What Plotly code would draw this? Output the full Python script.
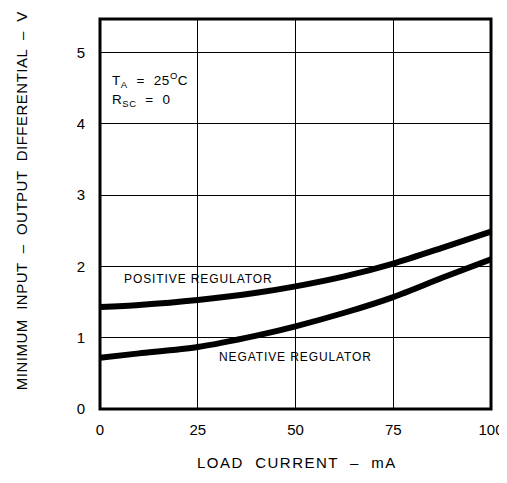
import plotly.graph_objects as go

load_current = [0, 10, 25, 40, 50, 62.5, 75, 87.5, 100]
positive_reg = [1.43, 1.46, 1.53, 1.63, 1.72, 1.86, 2.04, 2.26, 2.49]
negative_reg = [0.72, 0.78, 0.87, 1.03, 1.16, 1.35, 1.57, 1.84, 2.10]

x_ticks = [0, 25, 50, 75, 100]
y_ticks = [0, 1, 2, 3, 4, 5]

FONT = "Liberation Sans, Arial, sans-serif"


def spaced(text, px):
    return f'<span style="letter-spacing:{px}px">{text}</span>'


fig = go.Figure()
for ys in (positive_reg, negative_reg):
    fig.add_trace(go.Scatter(x=load_current, y=ys, mode="lines",
                             line=dict(color="black", width=6, shape="spline", smoothing=0.8),
                             showlegend=False, hoverinfo="skip"))

fig.update_xaxes(range=[0, 100], tickvals=x_ticks, ticktext=[str(v) for v in x_ticks],
                 showgrid=True, gridcolor="black", gridwidth=1.2, zeroline=False,
                 showline=False, ticks="", ticklabelstandoff=10, automargin=False,
                 tickfont=dict(size=15, color="black", family=FONT))
fig.update_yaxes(range=[0, 5.47], tickvals=y_ticks, ticktext=[str(v) for v in y_ticks],
                 showgrid=True, gridcolor="black", gridwidth=1.2, zeroline=False,
                 showline=False, ticks="", ticklabelstandoff=14, automargin=False,
                 tickfont=dict(size=15, color="black", family=FONT))

fig.add_shape(type="rect", xref="paper", yref="paper", x0=0, y0=0, x1=1, y1=1,
              line=dict(color="black", width=3))

# axis titles
fig.add_annotation(xref="paper", yref="paper", x=0.503, y=-0.138,
                   text=spaced("LOAD  CURRENT  –  mA", 1.5), showarrow=False,
                   xanchor="center", yanchor="middle",
                   font=dict(size=15, color="black", family=FONT))
fig.add_annotation(xref="paper", yref="paper", x=-0.202, y=0.533, textangle=-90,
                   text=spaced("MINIMUM  INPUT  –  OUTPUT  DIFFERENTIAL  –  V", 0.5),
                   showarrow=False, xanchor="center", yanchor="middle",
                   font=dict(size=15, color="black", family=FONT))

fig.add_annotation(x=5.5, y=1.82, text=spaced("POSITIVE REGULATOR", 0.9), showarrow=False,
                   xanchor="left", yanchor="middle",
                   font=dict(size=12, color="black", family=FONT))
fig.add_annotation(x=29.8, y=0.73, text=spaced("NEGATIVE REGULATOR", 0.9), showarrow=False,
                   xanchor="left", yanchor="middle",
                   font=dict(size=12, color="black", family=FONT))
fig.add_annotation(x=2.5, y=4.62, text=spaced("T<sub>A</sub>  =  25<sup>O</sup>C", 0.6),
                   showarrow=False, xanchor="left", yanchor="middle",
                   font=dict(size=13.5, color="black", family=FONT))
fig.add_annotation(x=2.5, y=4.32, text=spaced("R<sub>SC</sub>  =  0", 0.6),
                   showarrow=False, xanchor="left", yanchor="middle",
                   font=dict(size=13.5, color="black", family=FONT))

# page body has an 8px default margin, so the figure is sized to fit the window
fig.update_layout(width=499, height=475,
                  margin=dict(l=92, r=16, t=11, b=74),
                  plot_bgcolor="white", paper_bgcolor="white",
                  showlegend=False)

fig.write_html("out.html")
